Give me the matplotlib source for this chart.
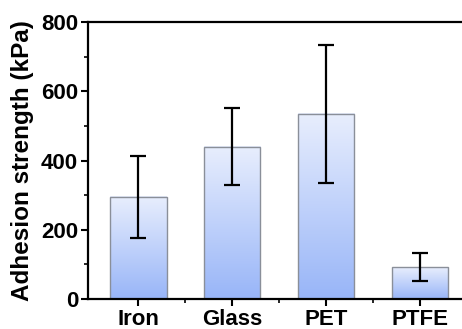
import numpy as np
import matplotlib
matplotlib.use('Agg')
import matplotlib.pyplot as plt
from matplotlib.colors import LinearSegmentedColormap

materials = ['Iron', 'Glass', 'PET', 'PTFE']
strength = [295, 440, 535, 92]
err = [118, 112, 200, 40]

plt.rcParams['font.family'] = 'Liberation Sans'
plt.rcParams['font.weight'] = 'bold'

fig = plt.figure(figsize=(4.62, 3.29), dpi=100)
ax = fig.add_axes([0.19, 0.091, 0.82, 0.842])

x = np.arange(len(materials))
w = 0.6
cmap = LinearSegmentedColormap.from_list('bluegrad', ['#98b5f8', '#e8eefd'])
grad = np.linspace(0, 1, 256).reshape(-1, 1)
for xi, h in zip(x, strength):
    ax.imshow(grad, cmap=cmap, origin='lower', aspect='auto',
              extent=[xi - w/2, xi + w/2, 0, h], zorder=1)
ax.bar(x, strength, width=w, color='none', edgecolor='#8a8f99', linewidth=1.0, zorder=2)
ax.errorbar(x, strength, yerr=err, fmt='none', ecolor='black', elinewidth=1.6,
            capsize=6, capthick=1.6, zorder=3)

ax.set_xlim(-0.54, 3.5)
ax.set_ylim(0, 800)
ax.set_yticks([0, 200, 400, 600, 800])
ax.set_yticks([100, 300, 500, 700], minor=True)
ax.set_xticks(x)
ax.set_xticks([0.5, 1.5, 2.5], minor=True)
ax.set_xticklabels(materials)
ax.set_ylabel('Adhesion strength (kPa)', fontsize=17.5, fontweight='bold', labelpad=5)
ax.tick_params(axis='y', which='major', labelsize=16, width=1.5, length=5, direction='out', pad=2)
ax.tick_params(axis='x', which='major', labelsize=16, width=1.5, length=5, direction='out', pad=2.5)
ax.tick_params(axis='both', which='minor', width=1.2, length=3, direction='out')
for s in ['left', 'bottom', 'top']:
    ax.spines[s].set_linewidth(1.6)
ax.spines['right'].set_visible(False)

fig.savefig('out.png', dpi=100)
